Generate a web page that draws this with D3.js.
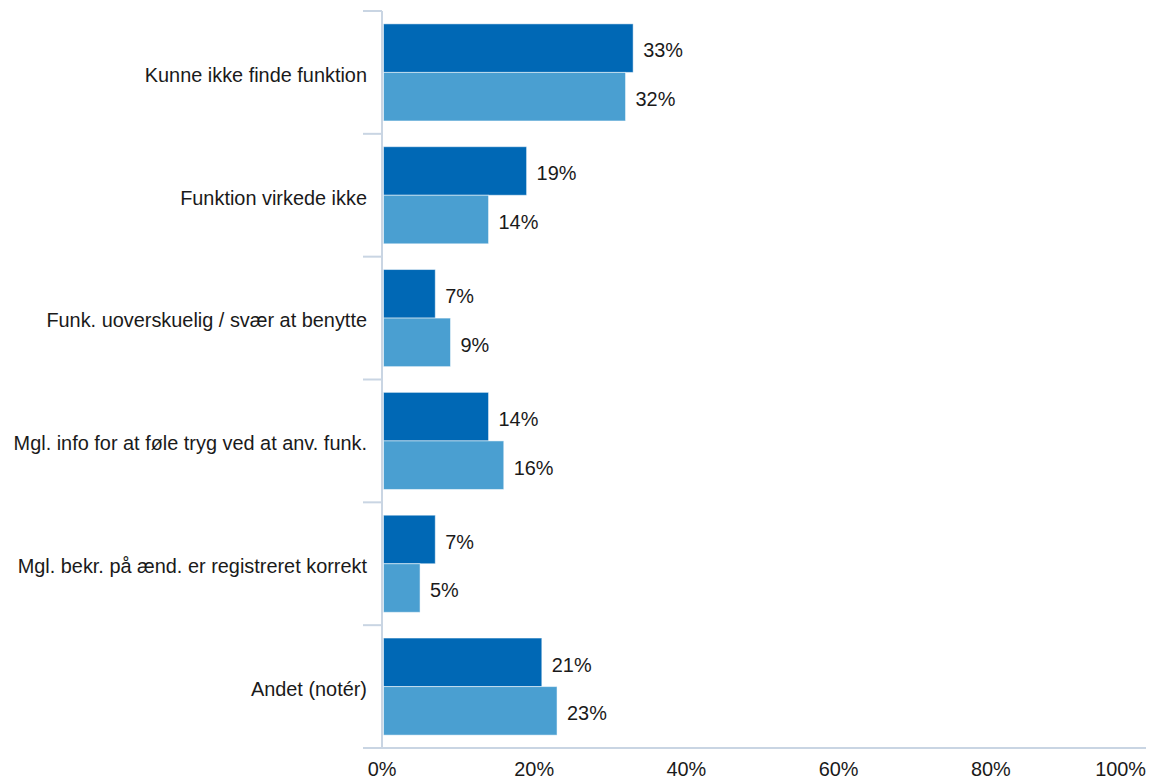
<!DOCTYPE html>
<html>
<head>
<meta charset="utf-8">
<script src="https://cdn.jsdelivr.net/npm/d3@7"></script>
<style>
  html, body { margin: 0; padding: 0; background: #ffffff; }
  svg text { font-family: "Liberation Sans", Arial, sans-serif; fill: #1a1a1a; }
</style>
</head>
<body>
<svg id="chart" width="1150" height="779"></svg>
<script>
const categories = [
  "Kunne ikke finde funktion",
  "Funktion virkede ikke",
  "Funk. uoverskuelig / svær at benytte",
  "Mgl. info for at føle tryg ved at anv. funk.",
  "Mgl. bekr. på ænd. er registreret korrekt",
  "Andet (notér)"
];
const seriesNames = ["A", "B"];
const seriesA = [33, 19, 7, 14, 7, 21];
const seriesB = [32, 14, 9, 16, 5, 23];
const xTicks = [0, 20, 40, 60, 80, 100];
const colors = ["#0068b5", "#4a9fd1"];

(function () {
const svg = d3.select("#chart");
const mLeft = 382, mRight = 1143, mTop = 11, mBottom = 748;
const fs = 19.9;

const x = d3.scaleLinear().domain([0, 100]).range([mLeft, mRight]);
const y0 = d3.scaleBand().domain(categories).range([mTop, mBottom]).padding(0);
const y1 = d3.scaleBand().domain(seriesNames).range([0, y0.bandwidth()]).paddingInner(0).paddingOuter(0.265);

const axisColor = "#c9d5e3";

const rows = categories.map((c, i) => ({ c, vals: [seriesA[i], seriesB[i]] }));
const g = svg.append("g");
rows.forEach(r => {
  r.vals.forEach((v, j) => {
    const yy = y0(r.c) + y1(seriesNames[j]);
    g.append("rect")
      .attr("x", x(0) + 1.5)
      .attr("y", yy)
      .attr("width", x(v) - x(0) - 1.5)
      .attr("height", y1.bandwidth())
      .attr("fill", colors[j])
      .attr("stroke", "#ffffff")
      .attr("stroke-opacity", 0.5)
      .attr("stroke-width", 1);
    g.append("text")
      .attr("x", x(v) + 10)
      .attr("y", yy + y1.bandwidth() / 2)
      .attr("dy", "0.47em")
      .attr("font-size", fs)
      .text(v + "%");
  });
});

svg.append("line")
  .attr("x1", mLeft).attr("x2", mLeft)
  .attr("y1", mTop).attr("y2", mBottom)
  .attr("stroke", axisColor).attr("stroke-width", 2);

const bounds = categories.map(c => y0(c)).concat([mBottom]);
svg.selectAll(".ytick").data(bounds).enter().append("line")
  .attr("x1", mLeft - 19).attr("x2", mLeft)
  .attr("y1", d => d).attr("y2", d => d)
  .attr("stroke", axisColor).attr("stroke-width", 2);

svg.selectAll(".ylab").data(categories).enter().append("text")
  .attr("x", mLeft - 15)
  .attr("y", d => y0(d) + y0.bandwidth() / 2)
  .attr("dy", "0.47em")
  .attr("text-anchor", "end")
  .attr("font-size", fs)
  .text(d => d);

svg.append("line")
  .attr("x1", mLeft - 19).attr("x2", 1146)
  .attr("y1", mBottom).attr("y2", mBottom)
  .attr("stroke", axisColor).attr("stroke-width", 2);

svg.selectAll(".xlab").data(xTicks).enter().append("text")
  .attr("x", d => d === 100 ? 1146 : x(d))
  .attr("y", 776)
  .attr("text-anchor", d => d === 100 ? "end" : "middle")
  .attr("font-size", fs)
  .text(d => d + "%");
})();
</script>
</body>
</html>
